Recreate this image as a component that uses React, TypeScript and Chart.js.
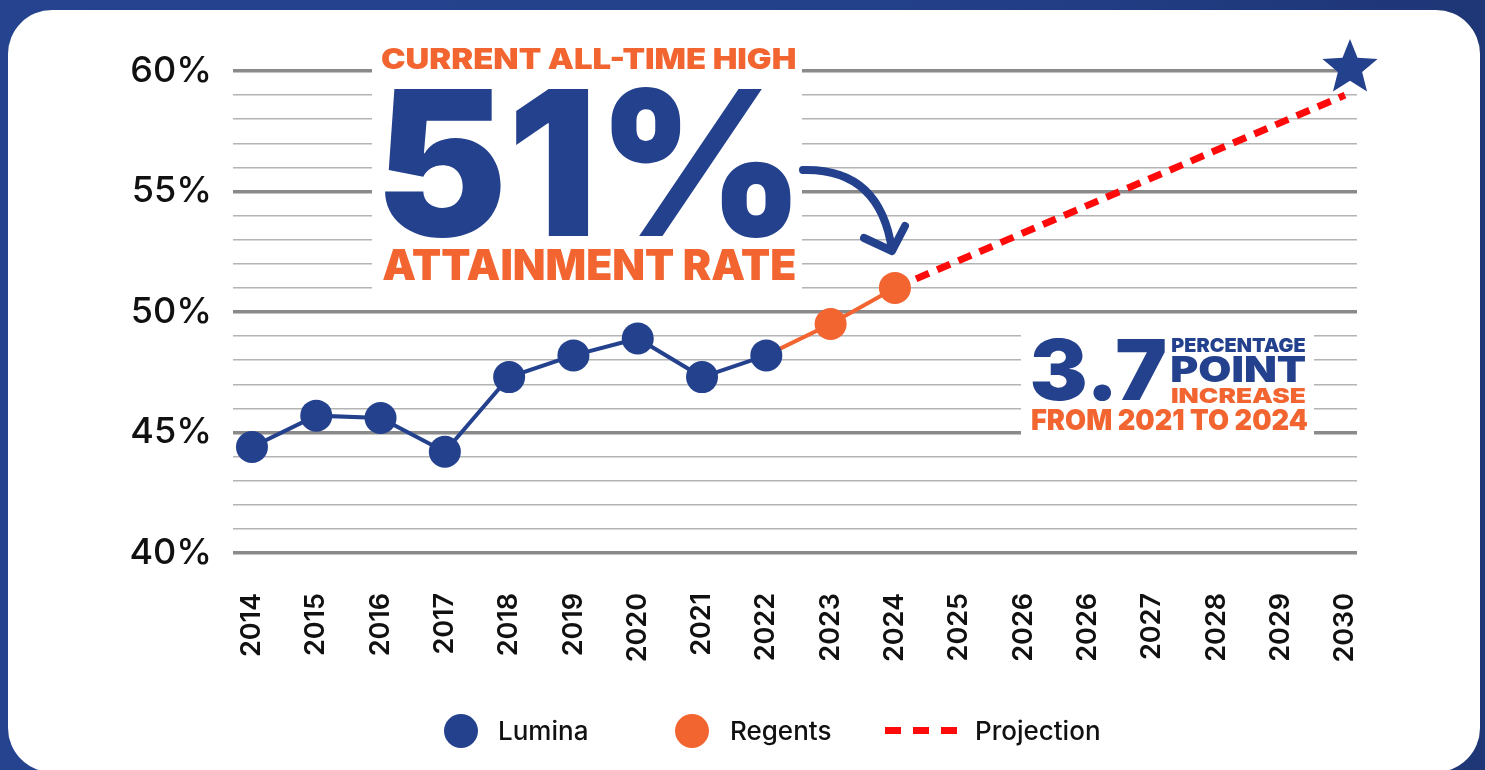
import React, { useEffect, useRef } from "react";
import { Chart, registerables } from "chart.js";

Chart.register(...registerables);

// ---------- data ----------
const years = [
  "2014", "2015", "2016", "2017", "2018", "2019", "2020", "2021", "2022",
  "2023", "2024", "2025", "2026", "2026", "2027", "2028", "2029", "2030",
];
const luminaValues = [44.4, 45.7, 45.6, 44.2, 47.3, 48.2, 48.9, 47.3, 48.2];
const regentsStartIndex = 8; // 2022
const regentsValues = [48.2, 49.5, 51.0];
const projectionIndex = [10, 17]; // 2024 -> 2030
const projectionValues = [51.0, 59.0];
const goalIndex = 17;
const goalValue = 60;
const yMin = 40;
const yMax = 60;

// ---------- styles ----------
const BLUE = "#24418e";
const ORANGE = "#f26430";
const RED = "#ff0a0a";
const FONT = "Inter, 'Noto Sans', 'DejaVu Sans', sans-serif";

function makeStar(size: number, color: string): HTMLCanvasElement {
  const c = document.createElement("canvas");
  c.width = size;
  c.height = size;
  const g = c.getContext("2d")!;
  const R = 29;
  const r = R * 0.44;
  const cx = size / 2 + 5;
  const cy = size / 2 - 3;
  g.beginPath();
  for (let i = 0; i < 10; i++) {
    const rad = i % 2 === 0 ? R : r;
    const a = -Math.PI / 2 + (i * Math.PI) / 5;
    const px = cx + rad * Math.cos(a);
    const py = cy + rad * Math.sin(a);
    if (i === 0) g.moveTo(px, py);
    else g.lineTo(px, py);
  }
  g.closePath();
  g.fillStyle = color;
  g.fill();
  return c;
}

function fitText(
  ctx: CanvasRenderingContext2D,
  text: string,
  x1: number,
  x2: number,
  top: number,
  baseline: number,
  color: string
) {
  ctx.save();
  ctx.font = `900 100px ${FONT}`;
  ctx.textAlign = "left";
  ctx.textBaseline = "alphabetic";
  const m = ctx.measureText(text);
  const inkW = m.actualBoundingBoxLeft + m.actualBoundingBoxRight;
  const inkH = m.actualBoundingBoxAscent;
  const sx = (x2 - x1) / inkW;
  const sy = (baseline - top) / inkH;
  ctx.translate(x1 + m.actualBoundingBoxLeft * sx, baseline);
  ctx.scale(sx, sy);
  ctx.fillStyle = color;
  ctx.fillText(text, 0, 0);
  ctx.restore();
}

const annotationPlugin = {
  id: "annotations",
  beforeDatasetsDraw(chart: any) {
    const ctx: CanvasRenderingContext2D = chart.ctx;
    ctx.save();
    ctx.fillStyle = "#ffffff";
    ctx.fillRect(372, 38, 430, 258);
    ctx.fillRect(1021, 318, 293, 128);

    fitText(ctx, "CURRENT ALL-TIME HIGH", 382, 795, 48, 69, ORANGE);
    fitText(ctx, "51%", 385, 792, 87, 236, BLUE);
    fitText(ctx, "ATTAINMENT RATE", 383, 795, 249, 280, ORANGE);

    fitText(ctx, "3.7", 1032, 1165, 338, 400, BLUE);
    fitText(ctx, "PERCENTAGE", 1172, 1305, 338, 352, BLUE);
    fitText(ctx, "POINT", 1172, 1305, 356, 382, BLUE);
    fitText(ctx, "INCREASE", 1172, 1305, 388, 403, ORANGE);
    fitText(ctx, "FROM 2021 TO 2024", 1032, 1307, 409, 430, ORANGE);

    // curved arrow
    ctx.strokeStyle = BLUE;
    ctx.lineWidth = 8;
    ctx.lineCap = "round";
    ctx.lineJoin = "round";
    ctx.beginPath();
    ctx.moveTo(803, 170);
    ctx.quadraticCurveTo(880, 168, 892, 250);
    ctx.stroke();
    ctx.beginPath();
    ctx.moveTo(864, 238);
    ctx.lineTo(892, 251);
    ctx.lineTo(905, 226);
    ctx.stroke();
    ctx.restore();
  },
};

export default function App() {
  const canvasRef = useRef<HTMLCanvasElement | null>(null);

  useEffect(() => {
    const canvas = canvasRef.current;
    if (!canvas) return;
    const star = makeStar(68, BLUE);
    const chart = new Chart(canvas, {
      type: "line",
      data: {
        datasets: [
          {
            label: "Lumina",
            data: luminaValues.map((y, i) => ({ x: i, y })),
            borderColor: BLUE,
            backgroundColor: BLUE,
            pointBackgroundColor: BLUE,
            pointBorderWidth: 0,
            borderWidth: 4,
            pointRadius: 16,
            pointHoverRadius: 16,
            tension: 0,
          },
          {
            label: "Regents",
            data: regentsValues.map((y, i) => ({ x: regentsStartIndex + i, y })),
            borderColor: ORANGE,
            backgroundColor: ORANGE,
            pointBackgroundColor: ORANGE,
            pointBorderWidth: 0,
            borderWidth: 4,
            pointRadius: (c: any) => (c.dataIndex === 0 ? 0 : 16),
            pointHoverRadius: (c: any) => (c.dataIndex === 0 ? 0 : 16),
            tension: 0,
          },
          {
            label: "Projection",
            data: projectionValues.map((y, i) => ({ x: projectionIndex[i], y })),
            borderColor: RED,
            backgroundColor: RED,
            borderWidth: 7,
            borderDash: [14, 9],
            pointRadius: 0,
            pointHoverRadius: 0,
            tension: 0,
          },
          {
            label: "Goal",
            data: [{ x: goalIndex, y: goalValue }],
            pointStyle: star as any,
            pointRadius: 29,
            showLine: false,
            clip: false as any,
          },
        ] as any,
      },
      options: {
        responsive: false,
        animation: false,
        events: [],
        layout: { padding: { left: 0, right: 128, top: 71, bottom: 0 } },
        plugins: {
          legend: { display: false },
          tooltip: { enabled: false },
        },
        scales: {
          x: {
            type: "linear",
            min: -0.295,
            max: 17.187,
            grid: { display: false, drawTicks: false },
            border: { display: false },
            ticks: {
              stepSize: 1,
              includeBounds: false,
              autoSkip: false,
              minRotation: 90,
              maxRotation: 90,
              padding: 40,
              color: "#111",
              font: { family: FONT, size: 27, weight: "600" },
              callback: (v: any) => (Number.isInteger(v) && years[v] ? years[v] : ""),
            },
            afterFit: (s: any) => {
              s.height = 217;
            },
          },
          y: {
            min: yMin,
            max: yMax,
            grid: {
              drawTicks: false,
              color: (c: any) => (c.tick && c.tick.value % 5 === 0 ? "#8a8a8a" : "#b4b4b4"),
              lineWidth: (c: any) => (c.tick && c.tick.value % 5 === 0 ? 3.5 : 1.6),
            },
            border: { display: false },
            ticks: {
              stepSize: 1,
              autoSkip: false,
              padding: 21,
              color: "#111",
              font: { family: FONT, size: 36, weight: "500" },
              callback: (v: any) => (v % 5 === 0 ? `${v}%` : ""),
            },
            afterFit: (s: any) => {
              s.width = 233;
            },
          },
        },
      } as any,
      plugins: [annotationPlugin],
    });
    return () => chart.destroy();
  }, []);

  const legendText: React.CSSProperties = {
    position: "absolute",
    top: 716,
    height: 30,
    lineHeight: "30px",
    fontFamily: FONT,
    fontSize: 26,
    fontWeight: 500,
    color: "#111",
    whiteSpace: "nowrap",
  };
  const dot = (left: number, color: string): React.CSSProperties => ({
    position: "absolute",
    left: left - 17,
    top: 731 - 17,
    width: 34,
    height: 34,
    borderRadius: "50%",
    background: color,
  });
  const dash = (left: number): React.CSSProperties => ({
    position: "absolute",
    left,
    top: 727,
    width: 16,
    height: 7,
    background: RED,
  });

  return (
    <div
      style={{
        position: "fixed",
        left: 0,
        top: 0,
        width: 1485,
        height: 770,
        overflow: "hidden",
        background: "linear-gradient(90deg, #25438f 0%, #23408a 60%, #1f3676 100%)",
      }}
    >
      <div
        style={{
          position: "absolute",
          left: 8,
          top: 10,
          width: 1472,
          height: 762,
          background: "#ffffff",
          borderRadius: 44,
        }}
      />
      <canvas
        ref={canvasRef}
        width={1485}
        height={770}
        style={{ position: "absolute", left: 0, top: 0, width: 1485, height: 770 }}
      />
      <div style={dot(461, BLUE)} />
      <div style={{ ...legendText, left: 498 }}>Lumina</div>
      <div style={dot(692, ORANGE)} />
      <div style={{ ...legendText, left: 730 }}>Regents</div>
      <div style={dash(885)} />
      <div style={dash(913)} />
      <div style={dash(941)} />
      <div style={{ ...legendText, left: 975 }}>Projection</div>
    </div>
  );
}
